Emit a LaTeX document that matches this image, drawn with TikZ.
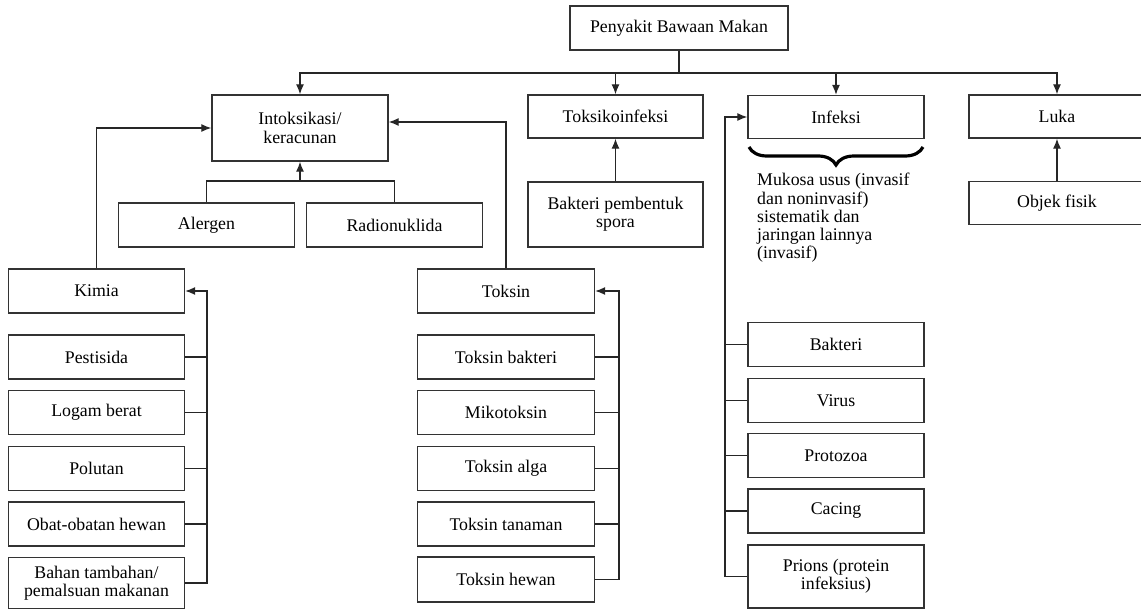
\documentclass[tikz,border=0pt]{standalone}
\usepackage{fontspec}
\setmainfont{Liberation Serif}
\usetikzlibrary{arrows.meta}
\usetikzlibrary{decorations.pathreplacing}

\begin{document}
\begin{tikzpicture}[x=1pt,y=-1pt,
    box/.style={draw=black!80,line width=1.4pt,minimum width=176pt,minimum height=44pt,
      inner sep=0pt,align=center,font=\fontsize{17.8}{18.3}\selectfont},
    link/.style={draw=black!85,line width=1.2pt},
    arr/.style={link,-{Latex[length=10pt,width=8pt]}}]
    \useasboundingbox (0,0) rectangle (1141,610);
    \clip (0,0) rectangle (1141,610);
    \node[box,minimum width=218pt] (top) at (679,28) {Penyakit Bawaan Makan};
    \node[box,minimum height=66pt] (intox) at (300,128) {Intoksikasi/\\keracunan};
    \node[box,minimum width=175pt,minimum height=43pt] (toksiko) at (615.5,116.5) {Toksikoinfeksi};
    \node[box,minimum height=43pt] (infeksi) at (836,117) {Infeksi};
    \node[box,minimum height=43pt] (luka) at (1057,116.5) {Luka};
    \coordinate (bus) at (679,73);
    \draw[link] (top.south) -- (bus);
    \draw[arr] (bus) -| (intox.north);
    \draw[arr] (bus) -| (toksiko.north);
    \draw[arr] (bus) -| (infeksi.north);
    \draw[arr] (bus) -| (luka.north);
    \node[box] (alergen) at (206.5,225) {Alergen};
    \node[box] (radio) at (394.5,225) {Radionuklida};
    \coordinate (ar) at (300,181);
    \draw[link] (alergen.north) |- (ar) -| (radio.north);
    \draw[arr] (ar) -- (intox.south);
    \node[box,minimum width=175pt,minimum height=65pt] (spora) at (615.5,214.5) {Bakteri pembentuk\\spora};
    \draw[arr] (spora.north) -- (toksiko.south);
    \node[box,minimum height=43pt] (objek) at (1057,203) {Objek fisik};
    \draw[arr] (objek.north) -- (luka.south);
    \draw[decorate,decoration={brace,mirror,amplitude=18pt},line width=3.2pt] (749,147) -- (923,147);
    \node[anchor=north west,align=left,inner sep=0pt,font=\fontsize{17.8}{18.3}\selectfont] (mukosa) at (757,173)
      {Mukosa usus (invasif\\dan noninvasif)\\sistematik dan\\jaringan lainnya\\(invasif)};
    \begin{scope}
      \node[box] (kimia) at (96.5,291) {Kimia};
      \node[box] (pest) at (96.5,357) {Pestisida};
      \node[box] (logam) at (96.5,412.5) {Logam berat};
      \node[box] (polutan) at (96.5,468.3) {Polutan};
      \node[box] (obat) at (96.5,524) {Obat-obatan hewan};
      \node[box,minimum height=51pt] (bahan) at (96.5,583) {Bahan tambahan/\\pemalsuan makanan};
      \coordinate (kbus) at (207,583);
      \draw[arr] (bahan.east) -- (kbus) |- (kimia.east);
      \draw[link] (pest.east) -- (pest.east -| kbus);
      \draw[link] (logam.east) -- (logam.east -| kbus);
      \draw[link] (polutan.east) -- (polutan.east -| kbus);
      \draw[link] (obat.east) -- (obat.east -| kbus);
    \end{scope}
    \draw[arr] (kimia.north) |- (intox.west);
    \begin{scope}
      \node[box,minimum width=177pt] (toksin) at (506,291) {Toksin};
      \node[box,minimum width=177pt] (tbakteri) at (506,357) {Toksin bakteri};
      \node[box,minimum width=177pt] (miko) at (506,412.5) {Mikotoksin};
      \node[box,minimum width=177pt] (alga) at (506,468.3) {Toksin alga};
      \node[box,minimum width=177pt] (tanaman) at (506,524) {Toksin tanaman};
      \node[box,minimum width=177pt,minimum height=45pt] (hewan) at (506,579.5) {Toksin hewan};
      \coordinate (tbus) at (619,579.5);
      \draw[arr] (hewan.east) -- (tbus) |- (toksin.east);
      \draw[link] (tbakteri.east) -- (tbakteri.east -| tbus);
      \draw[link] (miko.east) -- (miko.east -| tbus);
      \draw[link] (alga.east) -- (alga.east -| tbus);
      \draw[link] (tanaman.east) -- (tanaman.east -| tbus);
    \end{scope}
    \draw[arr] (toksin.north) |- ([yshift=6pt]intox.east);
    \begin{scope}
      \node[box] (bakteri) at (836,344.5) {Bakteri};
      \node[box] (virus) at (836,400.5) {Virus};
      \node[box] (protozoa) at (836,455.5) {Protozoa};
      \node[box] (cacing) at (836,511) {Cacing};
      \node[box,minimum height=63pt] (prions) at (836,576.5) {Prions (protein\\infeksius)};
      \coordinate (ibus) at (725,576.5);
      \draw[arr] (prions.west) -- (ibus) |- (infeksi.west);
      \draw[link] (bakteri.west) -- (bakteri.west -| ibus);
      \draw[link] (virus.west) -- (virus.west -| ibus);
      \draw[link] (protozoa.west) -- (protozoa.west -| ibus);
      \draw[link] (cacing.west) -- (cacing.west -| ibus);
    \end{scope}
  \end{tikzpicture}
\end{document}
